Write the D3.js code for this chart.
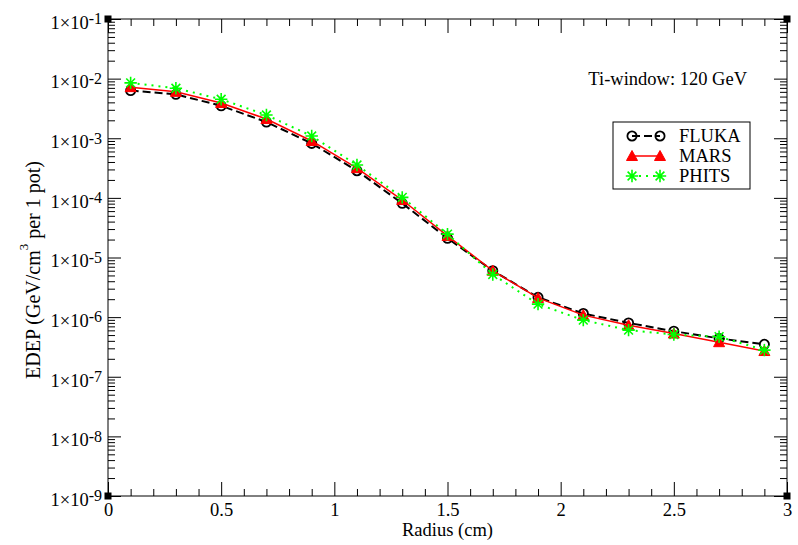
<!DOCTYPE html>
<html lang="en">
<head>
  <meta charset="UTF-8">
  <title>EDEP vs Radius</title>
  <style>
    body { margin: 0; background: #fff; }
    text { font-family: "Liberation Serif", "Times New Roman", serif; }
  </style>
</head>
<body>
  <script src="https://d3js.org/d3.v7.min.js"></script>
  <script>
    // data
    const radius = [0.1, 0.3, 0.5, 0.7, 0.9, 1.1, 1.3, 1.5, 1.7, 1.9, 2.1, 2.3, 2.5, 2.7, 2.9];
    const fluka = [6.3e-3, 5.45e-3, 3.5e-3, 1.87e-3, 8.2e-4, 2.85e-4, 8.1e-5, 2.1e-5, 6.0e-6, 2.15e-6, 1.15e-6, 8.0e-7, 5.8e-7, 4.4e-7, 3.5e-7];
    const mars = [7.2e-3, 6.0e-3, 3.9e-3, 2.1e-3, 9.0e-4, 3.15e-4, 9.2e-5, 2.3e-5, 6.0e-6, 2.1e-6, 1.08e-6, 7.3e-7, 5.3e-7, 3.8e-7, 2.7e-7];
    const phits = [8.5e-3, 6.9e-3, 4.5e-3, 2.45e-3, 1.09e-3, 3.55e-4, 1.02e-4, 2.47e-5, 5.2e-6, 1.65e-6, 8.9e-7, 6.05e-7, 5.1e-7, 4.7e-7, 2.8e-7];
    const seriesNames = ['FLUKA', 'MARS', 'PHITS'];

    const xTicks = [0, 0.5, 1, 1.5, 2, 2.5, 3];
    const xTickLabels = ['0', '0.5', '1', '1.5', '2', '2.5', '3'];
    const yExponents = [-9, -8, -7, -6, -5, -4, -3, -2, -1];

    const width = 798, height = 545;
    const margin = { top: 19, right: 11, bottom: 49, left: 108 };
    const fs = 18.5;

    const svg = d3.select('body').append('svg')
      .attr('width', width).attr('height', height);

    const x = d3.scaleLinear().domain([0, 3]).range([margin.left, width - margin.right]);
    const y = d3.scaleLog().domain([1e-9, 1e-1]).range([height - margin.bottom, margin.top]);

    const x0 = margin.left, x1 = width - margin.right;
    const y0 = height - margin.bottom, y1 = margin.top;

    // minor ticks
    const xMinor = d3.range(0, 31).map(i => i / 10).filter(v => !xTicks.some(t => Math.abs(t - v) < 1e-9));
    const yMinor = [];
    yExponents.slice(0, -1).forEach(e => { for (let k = 2; k <= 9; k++) yMinor.push(k * Math.pow(10, e)); });
    const yMajor = yExponents.map(e => Math.pow(10, e));

    function styleAxis(g) {
      g.select('.domain').remove();
      g.selectAll('.tick line').attr('stroke', '#000').attr('stroke-width', 1);
    }

    // bottom
    svg.append('g').attr('transform', `translate(0,${y0})`)
      .call(d3.axisBottom(x).tickValues(xMinor).tickSize(-7).tickFormat(''))
      .call(styleAxis);
    svg.append('g').attr('transform', `translate(0,${y0})`)
      .call(d3.axisBottom(x).tickValues(xTicks).tickSize(-14).tickPadding(7)
        .tickFormat((d, i) => xTickLabels[i]))
      .call(styleAxis)
      .call(g => g.selectAll('.tick text').attr('font-size', fs).attr('fill', '#000')
        .attr('font-family', '"Liberation Serif", serif'));
    // top
    svg.append('g').attr('transform', `translate(0,${y1})`)
      .call(d3.axisTop(x).tickValues(xMinor).tickSize(-7).tickFormat(''))
      .call(styleAxis);
    svg.append('g').attr('transform', `translate(0,${y1})`)
      .call(d3.axisTop(x).tickValues(xTicks).tickSize(-14).tickFormat(''))
      .call(styleAxis);

    // left
    svg.append('g').attr('transform', `translate(${x0},0)`)
      .call(d3.axisLeft(y).tickValues(yMinor).tickSize(-7).tickFormat(''))
      .call(styleAxis);
    svg.append('g').attr('transform', `translate(${x0},0)`)
      .call(d3.axisLeft(y).tickValues(yMajor).tickSize(-13).tickPadding(6).tickFormat(''))
      .call(styleAxis)
      .call(g => g.selectAll('.tick text')
        .attr('font-size', fs).attr('fill', '#000').attr('dy', '0.5em')
        .attr('font-family', '"Liberation Serif", serif')
        .each(function (d, i) {
          const t = d3.select(this);
          t.append('tspan').text('1\u00d710');
          t.append('tspan').attr('font-size', 16).attr('dy', -4.5).text('-' + Math.abs(yExponents[i]));
        }));
    // right
    svg.append('g').attr('transform', `translate(${x1},0)`)
      .call(d3.axisRight(y).tickValues(yMinor).tickSize(-7).tickFormat(''))
      .call(styleAxis);
    svg.append('g').attr('transform', `translate(${x1},0)`)
      .call(d3.axisRight(y).tickValues(yMajor).tickSize(-13).tickFormat(''))
      .call(styleAxis);

    // frame
    svg.append('rect').attr('x', x0).attr('y', y1).attr('width', x1 - x0).attr('height', y0 - y1)
      .attr('fill', 'none').attr('stroke', '#000').attr('stroke-width', 1);
    // corner markers
    [[x0, y1], [x1, y1], [x0, y0], [x1, y0]].forEach(([cx, cy]) => {
      svg.append('rect').attr('x', cx - 3.5).attr('y', cy - 3.5).attr('width', 7).attr('height', 7).attr('fill', '#000');
    });

    // axis labels
    svg.append('text').attr('x', (x0 + x1) / 2).attr('y', 536).attr('text-anchor', 'middle')
      .attr('font-size', fs).text('Radius (cm)');
    const yl = svg.append('text').attr('transform', `translate(39.5,270) rotate(-90)`)
      .attr('text-anchor', 'middle').attr('font-size', 20);
    yl.append('tspan').text('EDEP (GeV/cm');
    yl.append('tspan').attr('font-size', 13).attr('dy', -12).text('3');
    yl.append('tspan').attr('dy', 12).text(' per 1 pot)');

    // title
    svg.append('text').attr('x', 747).attr('y', 85).attr('text-anchor', 'end')
      .attr('font-size', fs).text('Ti-window: 120 GeV');

    // symbols
    function starPath(r) {
      let p = '';
      for (let k = 0; k < 4; k++) {
        const a = k * Math.PI / 4;
        p += `M${-r * Math.cos(a)},${-r * Math.sin(a)}L${r * Math.cos(a)},${r * Math.sin(a)}`;
      }
      return p;
    }
    const triPath = 'M0,-5.5L5.5,4.5L-5.5,4.5Z';

    const series = [
      { name: seriesNames[0], values: fluka, color: '#000', dash: '8,4', lw: 2 },
      { name: seriesNames[1], values: mars, color: '#ff0000', dash: null, lw: 1.5 },
      { name: seriesNames[2], values: phits, color: '#00ff00', dash: '2,5', lw: 2 }
    ];

    const line = d3.line().x((d, i) => x(radius[i])).y(d => y(d));

    function drawSymbol(g, k, color) {
      if (k === 0) {
        g.append('circle').attr('r', 4.6).attr('fill', 'none').attr('stroke', color).attr('stroke-width', 1.8);
      } else if (k === 1) {
        g.append('path').attr('d', triPath).attr('fill', color).attr('stroke', color).attr('stroke-width', 1);
      } else {
        g.append('path').attr('d', starPath(6.2)).attr('fill', 'none').attr('stroke', color).attr('stroke-width', 1.6);
      }
    }

    series.forEach((s, k) => {
      const g = svg.append('g').classed('series', true);
      g.append('path').datum(s.values).attr('d', line)
        .attr('fill', 'none').attr('stroke', s.color).attr('stroke-width', s.lw)
        .attr('stroke-dasharray', s.dash);
      g.selectAll('g.pt').data(s.values).join('g').attr('class', 'pt')
        .attr('transform', (d, i) => `translate(${x(radius[i])},${y(d)})`)
        .each(function () { drawSymbol(d3.select(this), k, s.color); });
    });

    // legend
    const legend = svg.append('g').attr('transform', 'translate(613,122)');
    legend.append('rect').attr('width', 137).attr('height', 67)
      .attr('fill', '#fff').attr('stroke', '#000').attr('stroke-width', 1);
    series.forEach((s, k) => {
      const ly = 14 + k * 20;
      const item = legend.append('g').attr('transform', `translate(0,${ly})`);
      item.append('line').attr('x1', 19).attr('x2', 47).attr('stroke', s.color)
        .attr('stroke-width', s.lw).attr('stroke-dasharray', s.dash);
      [19, 47].forEach(px => drawSymbol(item.append('g').attr('transform', `translate(${px},0)`), k, s.color));
      item.append('text').attr('x', 66).attr('y', 6).attr('font-size', fs).text(s.name);
    });
  </script>
</body>
</html>
